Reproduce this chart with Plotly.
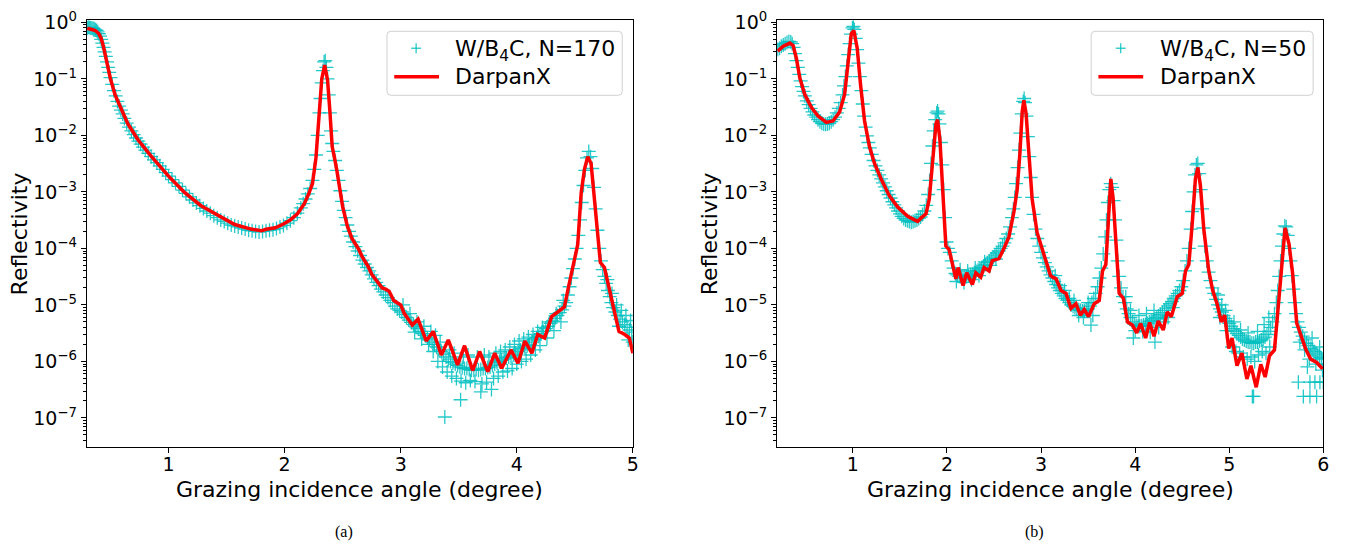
import plotly.graph_objects as go

# ---------------- Panel (a): W/B4C, N=170 ----------------
line_a_x = [0.30, 0.33, 0.37, 0.40, 0.42, 0.44, 0.47, 0.50, 0.54, 0.60, 0.65, 0.74, 0.85, 1.00, 1.14, 1.28,
            1.42, 1.57, 1.71, 1.78, 1.80, 1.84, 1.88, 1.92, 1.99, 2.05, 2.11, 2.17, 2.21, 2.24, 2.27, 2.30,
            2.32, 2.345, 2.37, 2.39, 2.41, 2.43, 2.45, 2.50, 2.54, 2.58, 2.64, 2.67, 2.72, 2.75, 2.80, 2.84,
            2.87, 2.90, 2.94, 3.00, 3.03, 3.10, 3.15, 3.22, 3.28, 3.35, 3.41, 3.49, 3.55, 3.62, 3.68, 3.75,
            3.81, 3.87, 3.95, 4.01, 4.07, 4.13, 4.18, 4.24, 4.30, 4.35, 4.41, 4.45, 4.47, 4.50, 4.525, 4.54,
            4.555, 4.583, 4.611, 4.64, 4.668, 4.697, 4.72, 4.755, 4.80, 4.84, 4.88, 4.93, 4.97, 5.00]
line_a_r = [0.79, 0.76, 0.72, 0.63, 0.52, 0.37, 0.19, 0.10, 0.052, 0.026, 0.016, 0.0082, 0.0043, 0.0019, 0.00097, 0.00057,
            0.00039, 0.000265, 0.00022, 0.000212, 0.000205, 0.000218, 0.000222, 0.000232, 0.00027, 0.00032, 0.00041, 0.00062, 0.00095, 0.0014, 0.0040, 0.028,
            0.10, 0.175, 0.095, 0.027, 0.0063, 0.0040, 0.0024, 0.00055, 0.00025, 0.00015, 0.000095, 0.00007, 0.000048, 0.000035, 0.000026, 0.00002,
            0.000019, 0.0000175, 0.000012, 0.00001, 7.1e-6, 4.4e-6, 5.6e-6, 2.3e-6, 3.4e-6, 1.3e-6, 2.4e-6, 8.7e-7, 1.9e-6, 6.9e-7, 1.5e-6, 6.6e-7,
            1.4e-6, 7.6e-7, 1.6e-6, 9.3e-7, 2.3e-6, 1.4e-6, 3.0e-6, 2.6e-6, 6.2e-6, 7.5e-6, 9.2e-6, 2.3e-5, 3.5e-5, 6.0e-5, 1.17e-4, 3.4e-4,
            9.8e-4, 0.0025, 0.0042, 0.0032, 0.00075, 0.00015, 5.6e-5, 4.6e-5, 1.8e-5, 8.1e-6, 3.4e-6, 3.0e-6, 2.6e-6, 1.4e-6]

data_a_x = [0.300, 0.310, 0.320, 0.330, 0.340, 0.350, 0.360, 0.370, 0.380, 0.390, 0.400, 0.410, 0.420, 0.430, 0.440, 0.450,
            0.460, 0.470, 0.480, 0.490, 0.500, 0.515, 0.530, 0.545, 0.560, 0.575, 0.590, 0.605, 0.620, 0.640, 0.660, 0.680,
            0.700, 0.720, 0.740, 0.760, 0.780, 0.800, 0.825, 0.850, 0.875, 0.900, 0.925, 0.950, 0.975, 1.000, 1.030, 1.060,
            1.090, 1.120, 1.150, 1.180, 1.210, 1.240, 1.270, 1.300, 1.330, 1.360, 1.390, 1.420, 1.450, 1.480, 1.510, 1.540,
            1.570, 1.600, 1.630, 1.660, 1.690, 1.720, 1.750, 1.780, 1.810, 1.840, 1.870, 1.900, 1.930, 1.960, 1.990, 2.020,
            2.050, 2.080, 2.110, 2.140, 2.160, 2.180, 2.200, 2.220, 2.240, 2.255, 2.270, 2.285, 2.300, 2.310, 2.320, 2.330,
            2.340, 2.350, 2.360, 2.370, 2.380, 2.390, 2.400, 2.410, 2.420, 2.435, 2.450, 2.465, 2.480, 2.495, 2.510, 2.525,
            2.540, 2.555, 2.570, 2.590, 2.610, 2.630, 2.650, 2.670, 2.690, 2.710, 2.730, 2.750, 2.770, 2.790, 2.810, 2.830,
            2.850, 2.870, 2.890, 2.910, 2.930, 2.950, 2.970, 2.990, 3.010, 3.030, 3.050, 3.070, 3.090, 3.110, 3.130, 3.150,
            3.170, 3.190, 3.210, 3.230, 3.250, 3.270, 3.290, 3.310, 3.330, 3.350, 3.370, 3.390, 3.410, 3.430, 3.450, 3.470,
            3.490, 3.510, 3.530, 3.550, 3.570, 3.590, 3.610, 3.630, 3.650, 3.670, 3.690, 3.710, 3.730, 3.750, 3.770, 3.790,
            3.810, 3.830, 3.850, 3.870, 3.890, 3.910, 3.930, 3.950, 3.970, 3.990, 4.010, 4.030, 4.050, 4.070, 4.090, 4.110,
            4.130, 4.150, 4.170, 4.190, 4.210, 4.230, 4.250, 4.270, 4.290, 4.310, 4.330, 4.350, 4.370, 4.390, 4.410, 4.425,
            4.440, 4.455, 4.470, 4.485, 4.500, 4.515, 4.530, 4.545, 4.560, 4.575, 4.590, 4.605, 4.620, 4.635, 4.650, 4.665,
            4.680, 4.695, 4.710, 4.725, 4.740, 4.755, 4.770, 4.785, 4.800, 4.815, 4.830, 4.850, 4.870, 4.890, 4.910, 4.930,
            4.950, 4.970, 4.990,
            # scattered extra measurements in the noisy regions
            3.02, 3.08, 3.14, 3.20, 3.26, 3.30, 3.12, 3.18, 3.24, 3.28,
            3.32, 3.36, 3.40, 3.44, 3.48, 3.38, 3.516, 3.52, 3.56, 3.60, 3.64, 3.69, 3.70, 3.74, 3.782, 3.80,
            3.84, 3.88, 3.92, 3.96, 4.00, 4.04, 4.08, 4.12, 4.16, 4.20, 4.26, 4.32, 4.38,
            3.34, 3.42, 3.46, 3.54, 3.58, 3.66, 3.72, 3.76, 3.82, 3.86, 3.90, 3.94, 3.98, 4.02, 4.06, 4.10,
            4.14, 4.18, 4.22, 4.28, 4.34, 4.40,
            4.78, 4.82, 4.86, 4.90, 4.94, 4.98, 4.88, 4.96, 5.00]
data_a_r = [0.80, 0.82, 0.81, 0.80, 0.79, 0.78, 0.77, 0.74, 0.72, 0.68, 0.63, 0.57, 0.50, 0.43, 0.36, 0.30,
            0.25, 0.20, 0.16, 0.13, 0.105, 0.080, 0.062, 0.050, 0.040, 0.033, 0.028, 0.024, 0.020, 0.0165, 0.0140, 0.0120,
            0.0103, 0.0090, 0.0079, 0.0070, 0.0062, 0.0055, 0.0048, 0.0042, 0.0037, 0.0033, 0.0029, 0.0025, 0.0022, 0.0019, 0.00165, 0.00145,
            0.00125, 0.00108, 0.00094, 0.00082, 0.00072, 0.00064, 0.00057, 0.00051, 0.00046, 0.00042, 0.00038, 0.00035, 0.00032, 0.00030, 0.00028, 0.00026,
            0.00025, 0.00024, 0.00023, 0.00022, 0.00021, 0.000205, 0.00020, 0.000195, 0.00020, 0.000205, 0.00021, 0.000215, 0.000225, 0.00024, 0.000255, 0.00028,
            0.00031, 0.00035, 0.00042, 0.00052, 0.00062, 0.00075, 0.00092, 0.00115, 0.0016, 0.0025, 0.0045, 0.010, 0.025, 0.045, 0.085, 0.14,
            0.20, 0.21, 0.16, 0.10, 0.052, 0.025, 0.012, 0.0072, 0.0052, 0.0036, 0.0024, 0.0016, 0.00105, 0.00068, 0.00047, 0.00035,
            0.00026, 0.00020, 0.000165, 0.00013, 0.000108, 0.00009, 0.000075, 0.000062, 0.000053, 0.000046, 0.00004, 0.000034, 0.000029, 0.000025, 0.000022, 0.000019,
            0.000017, 0.000015, 0.0000135, 0.000012, 0.000011, 9.5e-6, 8.5e-6, 8.0e-6, 7.5e-6, 6.8e-6, 6.0e-6, 5.4e-6, 4.9e-6, 4.5e-6, 4.1e-6, 3.8e-6,
            3.4e-6, 3.1e-6, 2.9e-6, 2.6e-6, 2.4e-6, 2.2e-6, 2.0e-6, 1.8e-6, 1.6e-6, 1.5e-6, 1.35e-6, 1.2e-6, 1.1e-6, 1.0e-6, 9.5e-7, 9.0e-7,
            8.5e-7, 8.0e-7, 7.8e-7, 7.5e-7, 7.5e-7, 7.2e-7, 7.0e-7, 7.0e-7, 7.2e-7, 7.0e-7, 7.2e-7, 7.5e-7, 7.5e-7, 7.8e-7, 8.0e-7, 8.5e-7,
            9.0e-7, 9.5e-7, 1.0e-6, 1.05e-6, 1.1e-6, 1.15e-6, 1.2e-6, 1.25e-6, 1.3e-6, 1.4e-6, 1.5e-6, 1.6e-6, 1.7e-6, 1.8e-6, 1.9e-6, 2.0e-6,
            2.2e-6, 2.4e-6, 2.6e-6, 2.8e-6, 3.1e-6, 3.4e-6, 3.8e-6, 4.2e-6, 4.7e-6, 5.2e-6, 5.8e-6, 6.5e-6, 7.3e-6, 8.2e-6, 9.5e-6, 1.1e-5,
            1.5e-5, 2.1e-5, 3.0e-5, 4.4e-5, 6.5e-5, 1.0e-4, 1.7e-4, 3.2e-4, 6.5e-4, 1.3e-3, 2.4e-3, 4.0e-3, 5.2e-3, 4.2e-3, 2.6e-3, 1.2e-3,
            5.0e-4, 2.1e-4, 1.0e-4, 6.0e-5, 4.2e-5, 3.2e-5, 2.4e-5, 1.8e-5, 1.4e-5, 1.1e-5, 9.0e-6, 7.5e-6, 6.5e-6, 5.6e-6, 5.0e-6, 4.5e-6,
            4.0e-6, 3.6e-6, 3.3e-6,
            1.0e-5, 7.0e-6, 5.0e-6, 4.2e-6, 3.4e-6, 2.9e-6, 3.3e-6, 2.5e-6, 2.0e-6, 1.5e-6,
            1.0e-6, 8.0e-7, 6.5e-7, 5.5e-7, 5.0e-7, 1.04e-7, 2.1e-7, 4.5e-7, 4.2e-7, 4.6e-7, 4.4e-7, 2.9e-7, 4.0e-7, 4.3e-7, 3.2e-7, 5.0e-7,
            5.5e-7, 6.5e-7, 6.8e-7, 7.5e-7, 9.0e-7, 1.0e-6, 1.1e-6, 1.3e-6, 1.6e-6, 1.9e-6, 2.6e-6, 3.5e-6, 5.0e-6,
            2.2e-6, 1.6e-6, 1.4e-6, 1.2e-6, 1.3e-6, 1.2e-6, 1.3e-6, 1.2e-6, 1.4e-6, 1.5e-6, 1.6e-6, 1.8e-6, 2.0e-6, 2.3e-6, 2.5e-6, 2.7e-6,
            3.0e-6, 3.4e-6, 4.0e-6, 5.0e-6, 7.0e-6, 1.2e-5,
            2.8e-5, 1.6e-5, 1.0e-5, 8.0e-6, 6.5e-6, 5.3e-6, 4.2e-6, 2.4e-6, 2.2e-6]

# ---------------- Panel (b): W/B4C, N=50 ----------------
line_b_x = [0.20, 0.26, 0.33, 0.365, 0.40, 0.436, 0.489, 0.56, 0.63, 0.718, 0.788, 0.859, 0.912, 0.947, 0.983, 1.01,
            1.046, 1.081, 1.124, 1.177, 1.23, 1.30, 1.388, 1.476, 1.582, 1.64, 1.688, 1.72, 1.777, 1.812, 1.847, 1.883,
            1.90, 1.925, 1.952, 1.988, 2.023, 2.058, 2.094, 2.119, 2.171, 2.21, 2.27, 2.306, 2.359, 2.394, 2.447, 2.482,
            2.553, 2.605, 2.658, 2.711, 2.746, 2.775, 2.80, 2.817, 2.841, 2.87, 2.905, 2.958, 3.011, 3.047, 3.10, 3.124,
            3.159, 3.212, 3.265, 3.318, 3.37, 3.417, 3.459, 3.505, 3.565, 3.618, 3.653, 3.688, 3.713, 3.741, 3.766, 3.794,
            3.83, 3.875, 3.918, 3.97, 4.016, 4.058, 4.111, 4.153, 4.20, 4.245, 4.298, 4.34, 4.383, 4.447, 4.50, 4.535,
            4.57, 4.605, 4.64, 4.665, 4.693, 4.729, 4.782, 4.824, 4.87, 4.915, 4.951, 4.994, 5.029, 5.082, 5.134, 5.187,
            5.23, 5.286, 5.335, 5.381, 5.427, 5.48, 5.515, 5.55, 5.593, 5.635, 5.674, 5.716, 5.769, 5.815, 5.865, 5.928,
            5.992]
line_b_r = [0.31, 0.38, 0.43, 0.39, 0.23, 0.104, 0.053, 0.031, 0.022, 0.017, 0.018, 0.026, 0.053, 0.177, 0.63, 0.72,
            0.35, 0.080, 0.018, 0.0063, 0.0032, 0.0017, 0.00085, 0.00054, 0.00037, 0.00033, 0.00030, 0.00034, 0.00041, 0.00075, 0.0037, 0.016,
            0.019, 0.0083, 0.0013, 0.00011, 9.5e-5, 5.2e-5, 2.9e-5, 4.6e-5, 2.2e-5, 3.7e-5, 2.3e-5, 3.7e-5, 3.1e-5, 4.6e-5, 4.0e-5, 6.1e-5,
            6.6e-5, 1.0e-4, 1.6e-4, 4.4e-4, 0.0011, 0.0049, 0.027, 0.042, 0.024, 0.0049, 0.00075, 0.00019, 1.0e-4, 6.0e-5, 3.3e-5, 3.1e-5,
            2.9e-5, 1.8e-5, 1.6e-5, 8.7e-6, 1.05e-5, 6.6e-6, 8.3e-6, 6.2e-6, 1.05e-5, 1.2e-5, 4.0e-5, 5.2e-5, 3.4e-4, 1.7e-3, 7.5e-4, 1.5e-4,
            1.6e-5, 1.3e-5, 5.0e-6, 4.4e-6, 3.2e-6, 4.7e-6, 2.6e-6, 4.9e-6, 2.8e-6, 5.2e-6, 3.6e-6, 7.5e-6, 6.2e-6, 1.4e-5, 1.6e-5, 4.0e-5,
            5.2e-5, 2.6e-4, 1.7e-3, 2.7e-3, 1.3e-3, 2.2e-4, 4.0e-5, 1.8e-5, 1.05e-5, 5.0e-6, 6.6e-6, 1.7e-6, 2.6e-6, 8.4e-7, 1.4e-6, 4.9e-7,
            8.4e-7, 3.5e-7, 8.9e-7, 5.3e-7, 1.26e-6, 1.6e-6, 8.1e-6, 4.6e-5, 2.3e-4, 1.2e-4, 3.5e-5, 4.8e-6, 2.6e-6, 1.6e-6, 1.1e-6, 9.6e-7,
            7.4e-7]

data_b_x = [0.200, 0.220, 0.240, 0.260, 0.280, 0.300, 0.320, 0.340, 0.355, 0.370, 0.385, 0.400, 0.415, 0.430, 0.445, 0.460,
            0.475, 0.490, 0.510, 0.530, 0.550, 0.570, 0.590, 0.610, 0.630, 0.650, 0.670, 0.690, 0.710, 0.730, 0.750, 0.770,
            0.790, 0.810, 0.830, 0.850, 0.870, 0.890, 0.905, 0.920, 0.935, 0.950, 0.965, 0.980, 0.995, 1.005, 1.015, 1.030,
            1.045, 1.060, 1.075, 1.090, 1.105, 1.120, 1.135, 1.150, 1.165, 1.180, 1.200, 1.220, 1.240, 1.260, 1.280, 1.300,
            1.320, 1.340, 1.360, 1.380, 1.400, 1.420, 1.440, 1.460, 1.480, 1.500, 1.520, 1.540, 1.560, 1.580, 1.600, 1.620,
            1.640, 1.660, 1.680, 1.700, 1.720, 1.740, 1.760, 1.780, 1.800, 1.815, 1.830, 1.845, 1.860, 1.875, 1.890, 1.900,
            1.910, 1.920, 1.935, 1.950, 1.965, 1.980, 1.995, 2.010, 2.030, 2.050, 2.070, 2.090, 2.110, 2.130, 2.150, 2.170,
            2.190, 2.210, 2.230, 2.250, 2.270, 2.290, 2.310, 2.330, 2.350, 2.370, 2.390, 2.410, 2.430, 2.450, 2.470, 2.490,
            2.510, 2.530, 2.550, 2.570, 2.590, 2.610, 2.630, 2.650, 2.670, 2.690, 2.705, 2.720, 2.735, 2.750, 2.765, 2.780,
            2.795, 2.810, 2.820, 2.830, 2.845, 2.860, 2.875, 2.890, 2.905, 2.920, 2.940, 2.960, 2.980, 3.000, 3.020, 3.040,
            3.060, 3.080, 3.100, 3.120, 3.140, 3.160, 3.180, 3.200, 3.220, 3.240, 3.260, 3.280, 3.300, 3.320, 3.340, 3.360,
            3.380, 3.400, 3.420, 3.440, 3.460, 3.480, 3.500, 3.520, 3.540, 3.560, 3.580, 3.600, 3.620, 3.640, 3.660, 3.680,
            3.695, 3.710, 3.725, 3.740, 3.755, 3.770, 3.785, 3.800, 3.815, 3.830, 3.850, 3.870, 3.890, 3.910, 3.930, 3.950,
            3.970, 3.990, 4.010, 4.030, 4.050, 4.070, 4.090, 4.110, 4.130, 4.150, 4.170, 4.190, 4.210, 4.230, 4.250, 4.270,
            4.290, 4.310, 4.330, 4.350, 4.370, 4.390, 4.410, 4.430, 4.450, 4.470, 4.490, 4.510, 4.530, 4.550, 4.570, 4.590,
            4.605, 4.620, 4.635, 4.650, 4.665, 4.680, 4.695, 4.710, 4.725, 4.740, 4.760, 4.780, 4.800, 4.820, 4.840, 4.860,
            4.880, 4.900, 4.920, 4.940, 4.960, 4.980, 5.000, 5.020, 5.040, 5.060, 5.080, 5.100, 5.120, 5.140, 5.160, 5.180,
            5.200, 5.220, 5.240, 5.260, 5.280, 5.300, 5.320, 5.340, 5.360, 5.380, 5.400, 5.420, 5.440, 5.460, 5.480, 5.500,
            5.515, 5.530, 5.545, 5.560, 5.575, 5.590, 5.605, 5.620, 5.635, 5.650, 5.665, 5.680, 5.695, 5.710, 5.725, 5.740,
            5.760, 5.780, 5.800, 5.820, 5.840, 5.860, 5.880, 5.900, 5.920, 5.940, 5.960, 5.980, 6.000,
            # scattered extra measurements in the noisy regions
            2.10, 2.14, 2.18, 2.22, 2.26, 2.30, 2.34, 2.40, 2.46, 2.52,
            3.15, 3.20, 3.25, 3.30, 3.35, 3.40, 3.45, 3.53, 3.55, 3.50,
            3.90, 3.95, 4.00, 4.04, 4.08, 4.12, 4.16, 4.20, 4.25, 4.30, 4.35, 4.40, 3.98, 4.21,
            4.88, 4.92, 4.96, 4.90, 4.97,
            5.03, 5.07, 5.11, 5.15, 5.19, 5.23, 5.27, 5.31, 5.35, 5.39, 5.43, 5.258, 5.245,
            5.05, 5.12, 5.20, 5.30, 5.37, 5.42,
            5.734, 5.857, 5.91, 5.963, 5.999, 5.787, 5.857, 5.928,
            5.75, 5.80, 5.85, 5.88, 5.92, 5.96, 5.99, 5.83]
data_b_r = [0.33, 0.35, 0.38, 0.40, 0.42, 0.44, 0.46, 0.45, 0.42, 0.36, 0.28, 0.21, 0.16, 0.12, 0.092, 0.073,
            0.060, 0.050, 0.041, 0.035, 0.030, 0.026, 0.023, 0.021, 0.019, 0.0175, 0.0165, 0.016, 0.0158, 0.016, 0.0165, 0.0175,
            0.019, 0.021, 0.025, 0.030, 0.038, 0.052, 0.075, 0.11, 0.17, 0.27, 0.42, 0.62, 0.80, 0.85, 0.75, 0.52,
            0.33, 0.19, 0.11, 0.062, 0.036, 0.022, 0.014, 0.0098, 0.0075, 0.0060, 0.0046, 0.0036, 0.0029, 0.0024, 0.0020, 0.0017,
            0.00145, 0.00123, 0.00105, 0.0009, 0.00078, 0.00067, 0.00059, 0.00052, 0.00046, 0.00041, 0.00037, 0.00034, 0.00032, 0.00031, 0.00030, 0.00029,
            0.00030, 0.00031, 0.00032, 0.00034, 0.00036, 0.00040, 0.00046, 0.00058, 0.0009, 0.0016, 0.0032, 0.0065, 0.012, 0.019, 0.025, 0.027,
            0.024, 0.016, 0.0075, 0.0030, 0.0011, 0.00035, 0.00013, 1.0e-4, 8.5e-5, 6.0e-5, 4.5e-5, 3.6e-5, 3.4e-5, 3.2e-5, 3.1e-5, 3.0e-5,
            3.1e-5, 3.2e-5, 3.3e-5, 3.4e-5, 3.5e-5, 3.7e-5, 3.9e-5, 4.1e-5, 4.3e-5, 4.6e-5, 4.9e-5, 5.2e-5, 5.6e-5, 6.0e-5, 6.5e-5, 7.0e-5,
            7.6e-5, 8.3e-5, 9.0e-5, 1.0e-4, 1.1e-4, 1.25e-4, 1.5e-4, 1.8e-4, 2.4e-4, 3.5e-4, 5.0e-4, 8.0e-4, 1.4e-3, 2.7e-3, 5.5e-3, 0.011,
            0.024, 0.040, 0.045, 0.038, 0.022, 0.0095, 0.0042, 0.0018, 0.0008, 0.0004, 0.00022, 0.00015, 0.00011, 8.5e-5, 6.8e-5, 5.6e-5,
            4.7e-5, 4.0e-5, 3.4e-5, 3.0e-5, 2.6e-5, 2.3e-5, 2.0e-5, 1.8e-5, 1.6e-5, 1.45e-5, 1.3e-5, 1.2e-5, 1.1e-5, 1.0e-5, 9.5e-6, 9.0e-6,
            8.5e-6, 8.2e-6, 8.0e-6, 7.8e-6, 8.0e-6, 8.2e-6, 8.5e-6, 9.5e-6, 1.1e-5, 1.3e-5, 1.6e-5, 2.1e-5, 3.0e-5, 4.5e-5, 8.0e-5, 1.6e-4,
            3.2e-4, 6.5e-4, 1.1e-3, 1.4e-3, 1.2e-3, 7.0e-4, 3.2e-4, 1.4e-4, 6.0e-5, 3.2e-5, 2.0e-5, 1.4e-5, 1.1e-5, 8.5e-6, 7.0e-6, 6.0e-6,
            5.0e-6, 4.6e-6, 4.3e-6, 4.2e-6, 4.2e-6, 4.3e-6, 4.4e-6, 4.5e-6, 4.7e-6, 5.0e-6, 5.2e-6, 5.4e-6, 5.7e-6, 6.0e-6, 6.4e-6, 6.8e-6,
            7.3e-6, 8.0e-6, 8.8e-6, 9.6e-6, 1.05e-5, 1.15e-5, 1.3e-5, 1.45e-5, 1.6e-5, 1.8e-5, 2.1e-5, 2.7e-5, 4.0e-5, 6.0e-5, 1.0e-4, 2.2e-4,
            4.5e-4, 1.0e-3, 2.0e-3, 3.0e-3, 3.2e-3, 2.1e-3, 1.1e-3, 5.0e-4, 2.3e-4, 1.1e-4, 6.0e-5, 3.8e-5, 2.7e-5, 2.0e-5, 1.6e-5, 1.25e-5,
            1.0e-5, 8.5e-6, 7.5e-6, 6.5e-6, 5.8e-6, 5.2e-6, 4.7e-6, 4.2e-6, 3.8e-6, 3.4e-6, 3.1e-6, 2.9e-6, 2.7e-6, 2.5e-6, 2.4e-6, 2.3e-6,
            2.2e-6, 2.2e-6, 2.1e-6, 2.1e-6, 2.2e-6, 2.2e-6, 2.3e-6, 2.4e-6, 2.5e-6, 2.7e-6, 3.0e-6, 3.4e-6, 4.0e-6, 5.0e-6, 7.0e-6, 1.1e-5,
            1.8e-5, 3.2e-5, 6.0e-5, 1.1e-4, 1.8e-4, 2.5e-4, 2.4e-4, 1.7e-4, 1.0e-4, 6.0e-5, 3.3e-5, 1.9e-5, 1.1e-5, 7.0e-6, 5.0e-6, 4.0e-6,
            3.3e-6, 2.8e-6, 2.4e-6, 2.1e-6, 1.9e-6, 1.7e-6, 1.6e-6, 1.5e-6, 1.4e-6, 1.3e-6, 1.2e-6, 1.15e-6, 1.1e-6,
            2.6e-5, 4.2e-5, 2.5e-5, 4.0e-5, 2.8e-5, 4.5e-5, 3.3e-5, 5.8e-5, 5.0e-5, 6.5e-5,
            3.3e-5, 2.2e-5, 1.8e-5, 1.3e-5, 1.2e-5, 6.5e-6, 6.0e-6, 4.4e-6, 6.5e-6, 1.1e-5,
            1.4e-5, 8.0e-6, 3.5e-6, 6.5e-6, 3.4e-6, 7.0e-6, 3.3e-6, 8.0e-6, 4.0e-6, 5.0e-6, 6.0e-6, 9.0e-6, 2.6e-6, 2.2e-6,
            1.5e-5, 1.0e-5, 8.0e-6, 6.0e-6, 3.5e-6,
            1.8e-6, 1.5e-6, 1.4e-6, 1.2e-6, 1.1e-6, 1.2e-6, 1.0e-6, 1.3e-6, 1.5e-6, 1.4e-6, 1.8e-6, 2.4e-7, 2.4e-7,
            5.0e-6, 3.6e-6, 3.2e-6, 3.4e-6, 4.5e-6, 6.0e-6,
            4.3e-7, 4.3e-7, 4.3e-7, 4.3e-7, 4.3e-7, 2.4e-7, 2.4e-7, 2.4e-7,
            2.2e-6, 1.6e-6, 1.1e-6, 2.6e-6, 9.0e-7, 1.8e-6, 7.0e-7, 8.0e-7]

y_tickvals = [1, 1e-1, 1e-2, 1e-3, 1e-4, 1e-5, 1e-6, 1e-7]
y_ticktext = ["10<sup>0</sup>", "10<sup>\u22121</sup>", "10<sup>\u22122</sup>", "10<sup>\u22123</sup>",
              "10<sup>\u22124</sup>", "10<sup>\u22125</sup>", "10<sup>\u22126</sup>", "10<sup>\u22127</sup>"]
x_ticks_a = [1, 2, 3, 4, 5]
x_ticks_b = [1, 2, 3, 4, 5, 6]
label_a = "W/B<sub>4</sub>C, N=170"
label_b = "W/B<sub>4</sub>C, N=50"
label_model = "DarpanX"

CYAN = "rgba(0,191,191,0.85)"
FONT = "DejaVu Sans"
W, H = 1349, 551

minor_vals = [m * 10.0 ** e for e in range(-8, 1) for m in range(2, 10)]

fig = go.Figure()
marker = dict(symbol="cross-thin", size=10, color=CYAN, line=dict(color=CYAN, width=1.3))
fig.add_trace(go.Scatter(x=data_a_x, y=data_a_r, mode="markers", marker=marker, name=label_a,
                         xaxis="x", yaxis="y", showlegend=False))
fig.add_trace(go.Scatter(x=line_a_x, y=line_a_r, mode="lines", line=dict(color="#ff0000", width=3.5),
                         name=label_model, xaxis="x", yaxis="y", showlegend=False))
fig.add_trace(go.Scatter(x=data_b_x, y=data_b_r, mode="markers", marker=marker, name=label_b,
                         xaxis="x2", yaxis="y2", showlegend=False))
fig.add_trace(go.Scatter(x=line_b_x, y=line_b_r, mode="lines", line=dict(color="#ff0000", width=3.5),
                         name=label_model, xaxis="x2", yaxis="y2", showlegend=False))

def xax(domain, rng, ticks, anchor):
    return dict(domain=domain, range=rng, anchor=anchor, tickvals=ticks, ticktext=[str(t) for t in ticks],
                showline=True, linecolor="black", linewidth=1.3, mirror=True, ticks="outside", ticklen=5,
                tickwidth=1.2, tickcolor="black", showgrid=False, zeroline=False, ticklabelstandoff=-5,
                tickfont=dict(family=FONT, size=19, color="black"))

def yax(domain, anchor):
    return dict(domain=domain, type="log", range=[-7.516, 0.037], anchor=anchor,
                tickvals=y_tickvals, ticktext=y_ticktext, ticklabeloverflow="allow",
                showline=True, linecolor="black", linewidth=1.3, mirror=True, ticks="outside", ticklen=5,
                tickwidth=1.2, tickcolor="black", showgrid=False, zeroline=False,
                minor=dict(tickvals=minor_vals, ticks="outside", ticklen=3, tickwidth=0.9, tickcolor="black",
                           showgrid=False),
                tickfont=dict(family=FONT, size=19, color="black"))

ydom = [1 - 445 / H, 1 - 9.5 / H]

fig.update_layout(
    width=W, height=H, margin=dict(l=0, r=0, t=0, b=0),
    paper_bgcolor="white", plot_bgcolor="white",
    font=dict(family=FONT, color="black"),
    xaxis=xax([87.3 / W, 635.7 / W], [0.297, 5.0], x_ticks_a, "y"),
    yaxis=yax(ydom, "x"),
    xaxis2=xax([780.7 / W, 1329.3 / W], [0.196, 6.0], x_ticks_b, "y2"),
    yaxis2=yax(ydom, "x2"),
    showlegend=False,
)

def px(x, y):
    return x / W, 1 - y / H

# ---- legend boxes (matplotlib-style, rounded frame) ----
def legend_box(x0, x1, y0, y1, sym_x, line_x0, line_x1, text_x, data_label):
    r = 4
    pts = []
    def P(x, y):
        a, b = px(x, y)
        return f"{a:.6f},{b:.6f}"
    path = (f"M {P(x0 + r, y0)} L {P(x1 - r, y0)} Q {P(x1, y0)} {P(x1, y0 + r)} "
            f"L {P(x1, y1 - r)} Q {P(x1, y1)} {P(x1 - r, y1)} L {P(x0 + r, y1)} "
            f"Q {P(x0, y1)} {P(x0, y1 - r)} L {P(x0, y0 + r)} Q {P(x0, y0)} {P(x0 + r, y0)} Z")
    fig.add_shape(type="path", path=path, xref="paper", yref="paper",
                  line=dict(color="#d0d0d0", width=1), fillcolor="rgba(255,255,255,0.8)", layer="above")
    row1, row2 = 38, 67
    # cross symbol
    for (ax0, ay0, ax1, ay1) in [(sym_x - 5, row1, sym_x + 5, row1), (sym_x, row1 - 5, sym_x, row1 + 5)]:
        a0, b0 = px(ax0, ay0)
        a1, b1 = px(ax1, ay1)
        fig.add_shape(type="line", x0=a0, y0=b0, x1=a1, y1=b1, xref="paper", yref="paper",
                      line=dict(color=CYAN, width=1.3), layer="above")
    a0, b0 = px(line_x0, row2)
    a1, b1 = px(line_x1, row2)
    fig.add_shape(type="line", x0=a0, y0=b0, x1=a1, y1=b1, xref="paper", yref="paper",
                  line=dict(color="#ff0000", width=3.5), layer="above")
    tx, ty1 = px(text_x, row1 + 2)
    _, ty2 = px(text_x, row2)
    fig.add_annotation(text=data_label, x=tx, y=ty1, xref="paper", yref="paper", showarrow=False,
                       xanchor="left", yanchor="middle", font=dict(size=22))
    fig.add_annotation(text=label_model, x=tx, y=ty2, xref="paper", yref="paper", showarrow=False,
                       xanchor="left", yanchor="middle", font=dict(size=22))

legend_box(388.7, 625, 20.7, 86, 418, 396, 441, 455, label_a)
legend_box(1096, 1319, 20.7, 86, 1125.7, 1103.3, 1148.3, 1163, label_b)

annots = [
    dict(text="Reflectivity", x=20 / W, y=1 - 227 / H, textangle=-90, font=dict(size=22)),
    dict(text="Reflectivity", x=713 / W, y=1 - 227 / H, textangle=-90, font=dict(size=22)),
    dict(text="Grazing incidence angle (degree)", x=361.5 / W, y=1 - 488 / H, font=dict(size=22)),
    dict(text="Grazing incidence angle (degree)", x=1055 / W, y=1 - 488 / H, font=dict(size=22)),
    dict(text="(a)", x=346 / W, y=1 - 532 / H, font=dict(size=16, family="Liberation Serif")),
    dict(text="(b)", x=1039.5 / W, y=1 - 532 / H, font=dict(size=16, family="Liberation Serif")),
]
for a in annots:
    fig.add_annotation(xref="paper", yref="paper", showarrow=False, xanchor="center", yanchor="middle",
                       **a)

fig.write_html("out.html", config={"displayModeBar": False},
               post_script="document.body.style.margin='0px';")
